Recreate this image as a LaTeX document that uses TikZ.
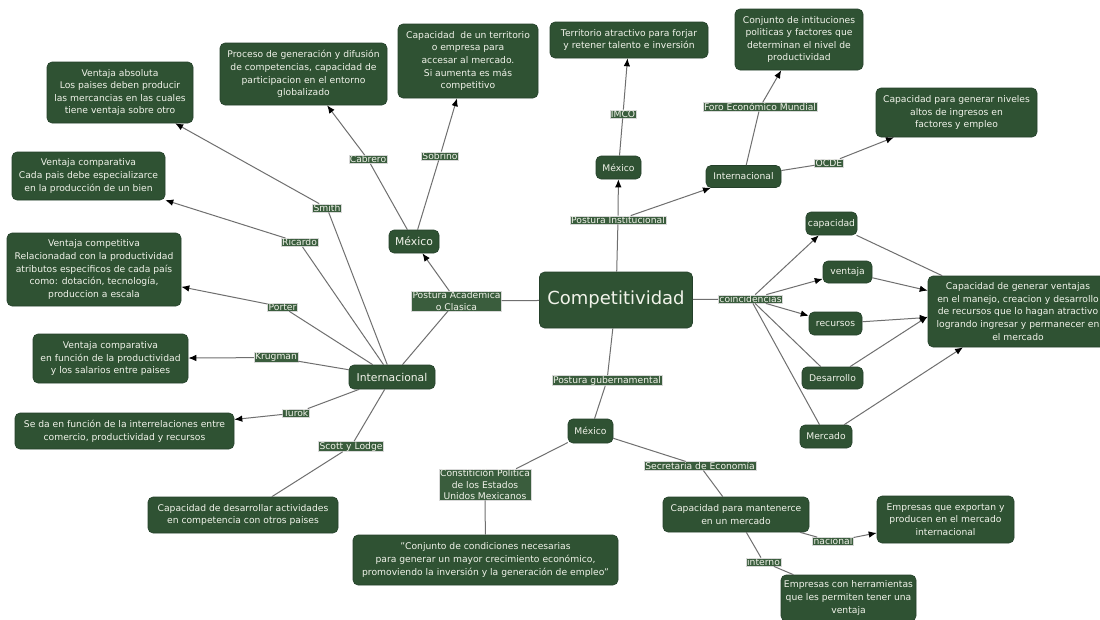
\documentclass[tikz,border=0pt]{standalone}
\usepackage{fontspec}
\setmainfont{DejaVu Sans}
\usetikzlibrary{arrows.meta,calc}

\definecolor{boxgreen}{HTML}{2F5233}
\definecolor{boxedge}{HTML}{24402A}
\definecolor{labgreen}{HTML}{3A5D3D}
\definecolor{boxtext}{HTML}{F1F3EA}
\definecolor{linkgray}{HTML}{6F6F6F}

\tikzset{
  concept/.style={rectangle, rounded corners=5pt, fill=boxgreen, draw=boxedge,
    line width=0.6pt, text=boxtext, align=center, inner sep=2pt,
    font=\fontsize{9.2}{12.6}\selectfont},
  bigword/.style={concept, font=\fontsize{10.8}{13}\selectfont},
  linklabel/.style={rectangle, fill=labgreen, draw=gray!30, line width=0.5pt,
    text=boxtext, align=center, inner xsep=1pt, inner ysep=0.6pt,
    font=\fontsize{9.2}{11.2}\selectfont},
  conn/.style={draw=linkgray, line width=1pt},
  arr/.style={conn, -{Latex[length=8pt,width=6.5pt,black]}},
  sz/.style 2 args={minimum width=#1pt, minimum height=#2pt}
}

\begin{document}
\begin{tikzpicture}[x=1pt,y=-1pt]
\fill[white] (0,0) rectangle (1100,619);
\useasboundingbox (0,0) rectangle (1100,619);

% ---- central concept
\node[concept, sz={153}{56}, font=\fontsize{18}{20}\selectfont] (comp) at (616,300) {Competitividad};

% ---- institutional branch
\node[linklabel] (lPI) at (618,220) {Postura Institucional};
\node[concept, sz={45}{23}] (mexT) at (618.5,167.5) {México};
\node[concept, sz={75}{22}] (intT) at (743.5,176.5) {Internacional};
\node[linklabel] (lIMCO) at (623,114) {IMCO};
\node[concept, sz={158}{36}] (terr) at (629,40) {Territorio atractivo para forjar\\y retener talento e inversión};
\node[linklabel] (lForo) at (760,107) {Foro Económico Mundial};
\node[concept, sz={128}{61}] (conj) at (799,39.5) {Conjunto de intituciones\\politicas y factores que\\determinan el nivel de\\productividad};
\node[linklabel] (lOCDE) at (829,163) {OCDE};
\node[concept, sz={161}{49}] (capniv) at (956.5,112.5) {Capacidad para generar niveles\\altos de ingresos en\\factores y empleo};

% ---- academic branch
\node[linklabel] (lPA) at (456.5,301) {Postura Academica\\o Clasica};
\node[bigword, sz={50}{23}] (mexL) at (414,241.5) {México};
\node[bigword, sz={86}{24}] (intL) at (392,377) {Internacional};
\node[linklabel] (lCab) at (368,159.5) {Cabrero};
\node[linklabel] (lSob) at (440,156) {Sobrino};
\node[concept, sz={167}{62}] (proc) at (303.5,74) {Proceso de generación y difusión\\de competencias, capacidad de\\participacion en el entorno\\globalizado};
\node[concept, sz={140}{74}] (capterr) at (468,61) {Capacidad\ \ de un territorio\\o empresa para\\accesar al mercado.\\Si aumenta es más\\competitivo};

\node[linklabel] (lSmith) at (327,208) {Smith};
\node[linklabel] (lRic) at (299.5,242.5) {Ricardo};
\node[linklabel] (lPor) at (282.5,307) {Porter};
\node[linklabel] (lKrug) at (276,357.5) {Krugman};
\node[linklabel] (lTurok) at (296,413) {Turok};
\node[linklabel] (lScott) at (351,446.5) {Scott y Lodge};

\node[concept, sz={146}{61}] (va) at (120,92.5) {Ventaja absoluta\\Los paises deben producir\\las mercancias en las cuales\\tiene ventaja sobre otro};
\node[concept, sz={153}{48}] (vc1) at (88.5,176) {Ventaja comparativa\\Cada pais debe especializarce\\en la producción de un bien};
\node[concept, sz={174}{73}] (vcomp) at (94,269.5) {Ventaja competitiva\\Relacionadad con la productividad\\atributos especificos de cada país\\como: dotación, tecnología,\\produccion a escala};
\node[concept, sz={155}{49}] (vc2) at (110.5,358.5) {Ventaja comparativa\\en función de la productividad\\y los salarios entre paises};
\node[concept, sz={219}{36}] (seda) at (124.5,431) {Se da en función de la interrelaciones entre\\comercio, productividad y recursos};
\node[concept, sz={190}{36}] (capdes) at (243,515) {Capacidad de desarrollar actividades\\en competencia con otros paises};

% ---- governmental branch
\node[linklabel] (lPG) at (607,380.5) {Postura gubernamental};
\node[concept, sz={45}{24}] (mexB) at (590.5,431) {México};
\node[linklabel] (lConst) at (485,484.5) {Constitición Politica\\de los Estados\\Unidos Mexicanos};
\node[concept, sz={265}{50}] (quote) at (485.5,560) {\symbol{34}Conjunto de condiciones necesarias\\para generar un mayor crecimiento económico,\\promoviendo la inversión y la generación de empleo\symbol{34}};
\node[linklabel] (lSec) at (700,466) {Secretaria de Economía};
\node[concept, sz={146}{35}] (capmant) at (736,514.5) {Capacidad para mantenerce\\en un mercado};
\node[linklabel] (lNac) at (833,541.5) {nacional};
\node[concept, sz={137}{47}] (empexp) at (945.5,519.5) {Empresas que exportan y\\producen en el mercado\\internacional};
\node[linklabel] (lInt) at (763.5,562) {interno};
\node[concept, sz={135}{46}] (empher) at (848.5,598) {Empresas con herramientas\\que les permiten tener una\\ventaja};

% ---- coincidences branch
\node[linklabel] (lCoin) at (750.5,299) {coincidencias};
\node[concept, sz={51}{23}] (capac) at (831.5,223.5) {capacidad};
\node[concept, sz={49}{22}] (vent) at (847.5,272) {ventaja};
\node[concept, sz={53}{23}] (recur) at (835.5,323.5) {recursos};
\node[concept, sz={61}{22}] (desar) at (832.5,378) {Desarrollo};
\node[concept, sz={52}{23}] (merc) at (826,436.5) {Mercado};
\node[concept, sz={180}{71}] (big) at (1018,311.5) {Capacidad de generar ventajas\\en el manejo, creacion y desarrollo\\de recursos que lo hagan atractivo\\logrando ingresar y permanecer en\\el mercado};

% ---- connectors
\draw[conn] (comp) -- (lPI);
\draw[arr] (lPI) -- (mexT);
\draw[arr] (lPI) -- (intT);
\draw[conn] (mexT) -- (lIMCO);
\draw[arr] (lIMCO) -- (terr);
\draw[conn] (intT) -- (lForo);
\draw[arr] (lForo) -- (conj);
\draw[conn] (intT) -- (lOCDE);
\draw[arr] (lOCDE) -- (capniv);

\draw[conn] (comp) -- (lPA);
\draw[arr] (lPA) -- (mexL);
\draw[conn] (lPA) -- (intL);
\draw[conn] (mexL) -- (lCab);
\draw[arr] (lCab) -- (proc);
\draw[conn] (mexL) -- (lSob);
\draw[arr] (lSob) -- (capterr);

\draw[conn] (intL) -- (lSmith);
\draw[arr] (lSmith) -- (va);
\draw[conn] (intL) -- (lRic);
\draw[arr] (lRic) -- (vc1);
\draw[conn] (intL) -- (lPor);
\draw[arr] (lPor) -- (vcomp);
\draw[conn] (intL) -- (lKrug);
\draw[arr] (lKrug) -- (vc2);
\draw[conn] (intL) -- (lTurok);
\draw[arr] (lTurok) -- (seda);
\draw[conn] (intL) -- (lScott);
\draw[conn] (lScott) -- (capdes);

\draw[conn] (comp) -- (lPG);
\draw[conn] (lPG) -- (mexB);
\draw[conn] (mexB) -- (lConst);
\draw[conn] (lConst) -- (quote);
\draw[conn] (mexB) -- (lSec);
\draw[conn] (lSec) -- (capmant);
\draw[conn] (capmant) -- (lNac);
\draw[arr] (lNac) -- (empexp);
\draw[conn] (capmant) -- (lInt);
\draw[conn] (lInt) -- (empher);

\draw[conn] (comp) -- (lCoin);
\draw[arr] (lCoin) -- (capac);
\draw[arr] (lCoin) -- (vent);
\draw[arr] (lCoin) -- (recur);
\draw[conn] (lCoin) -- (desar);
\draw[conn] (lCoin) -- (merc);
\coordinate (bigD) at ($(big.north west)!0.57!(big.south west)$);
\draw[conn] (capac) -- (big);
\draw[arr] (vent) -- (big);
\draw[arr] (recur) -- (big);
\draw[arr] (desar) -- (bigD);
\draw[arr] (merc) -- (big);
\end{tikzpicture}
\end{document}
